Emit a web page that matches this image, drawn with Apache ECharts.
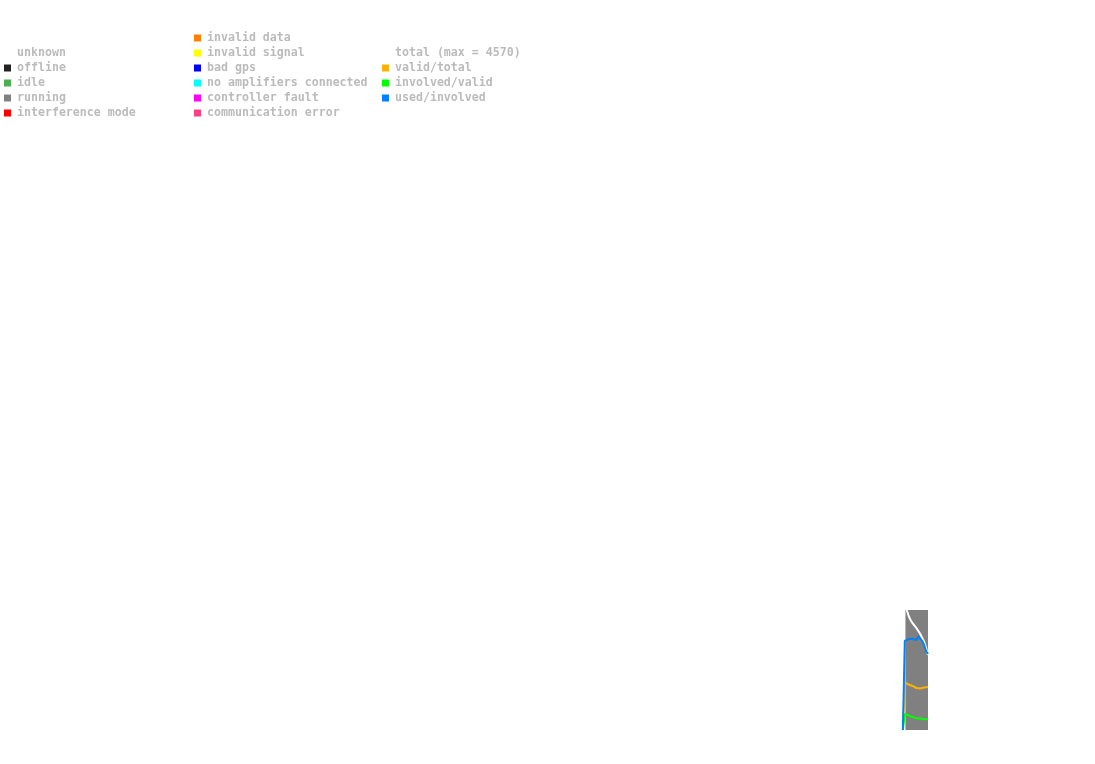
<!DOCTYPE html>
<html>
<head>
<meta charset="utf-8">
<script src="https://cdn.jsdelivr.net/npm/echarts@6/dist/echarts.min.js"></script>
<style>
html,body{margin:0;padding:0;background:#fff;}
#c{width:1095px;height:764px;}
</style>
</head>
<body>
<div id="c"></div>
<script>
// time in minutes of the day (axis spans 0..1440)
const times = [1401, 1404, 1407, 1410, 1413, 1416, 1419, 1422, 1425, 1428, 1431, 1434, 1437, 1440];
const runTimes = [1405, 1410, 1415, 1420, 1425, 1430, 1435, 1440];
const runningShare = [1, 1, 1, 1, 1, 1, 1, 1];
// total relative to max (4570)
const totalRel = [null, null, 1.0, 0.95, 0.917, 0.89, 0.883, 0.85, 0.825, 0.8, 0.767, 0.733, 0.683, 0.625];
const validTotal = [0, 0.396, 0.388, 0.379, 0.371, 0.367, 0.358, 0.35, 0.342, 0.346, 0.354, 0.354, 0.356, 0.358];
const involvedValid = [0, 0.133, 0.129, 0.121, 0.114, 0.108, 0.104, 0.098, 0.098, 0.096, 0.092, 0.089, 0.088, 0.092];
const usedInvolved = [0, 0.742, 0.75, 0.758, 0.763, 0.758, 0.767, 0.75, 0.779, 0.792, 0.742, 0.708, 0.658, 0.633];

const statusNames1 = ['unknown', 'offline', 'idle', 'running', 'interference mode'];
const statusNames2 = ['invalid data', 'invalid signal', 'bad gps', 'no amplifiers connected', 'controller fault', 'communication error'];
const lineNames = ['total (max = 4570)', 'valid/total', 'involved/valid', 'used/involved'];

const statusColors = {
  'unknown': '#ffffff', 'offline': '#222222', 'idle': '#4caf50', 'running': '#808080',
  'interference mode': '#ff0000', 'invalid data': '#ff8000', 'invalid signal': '#ffff00',
  'bad gps': '#0000ff', 'no amplifiers connected': '#00ffff', 'controller fault': '#ff00ff',
  'communication error': '#ff4080'
};
const lineColors = ['#ffffff', '#ffb000', '#00ff00', '#0080ff'];

const pair = (xs, ys) => xs.map((x, i) => [x, ys[i]]);

const series = [];
statusNames1.concat(statusNames2).forEach(n => {
  series.push({
    name: n, type: 'line', stack: 'status', showSymbol: false, silent: true,
    color: statusColors[n],
    lineStyle: { width: 0 },
    areaStyle: { color: statusColors[n], opacity: 1 },
    data: n === 'running' ? pair(runTimes, runningShare) : []
  });
});
const lineData = [totalRel, validTotal, involvedValid, usedInvolved];
lineNames.forEach((n, i) => {
  series.push({
    name: n, type: 'line', showSymbol: false, silent: true,
    color: lineColors[i],
    lineStyle: { width: 2, color: lineColors[i] },
    data: pair(times, lineData[i])
  });
});

const legendText = {
  fontFamily: 'DejaVu Sans Mono', fontWeight: 'bold', fontSize: 11.6,
  color: '#bbbbbb', lineHeight: 15, padding: [0, 0, 0, 1]
};
const legendBase = {
  orient: 'vertical', icon: 'rect', itemWidth: 7, itemHeight: 7, itemGap: 0,
  padding: 0, textStyle: legendText, selectedMode: false
};

const chart = echarts.init(document.getElementById('c'), null, { renderer: 'canvas' });
chart.setOption({
  animation: false,
  backgroundColor: '#ffffff',
  legend: [
    Object.assign({}, legendBase, { left: 4, top: 45.5, data: statusNames1 }),
    Object.assign({}, legendBase, { left: 194, top: 30.5, data: statusNames2 }),
    Object.assign({}, legendBase, { left: 382, top: 45.5, data: lineNames })
  ],
  grid: { left: 0, top: 610, width: 928, height: 120 },
  xAxis: { type: 'value', min: 0, max: 1440, show: false },
  yAxis: { type: 'value', min: 0, max: 1, show: false },
  series: series
});
</script>
</body>
</html>
